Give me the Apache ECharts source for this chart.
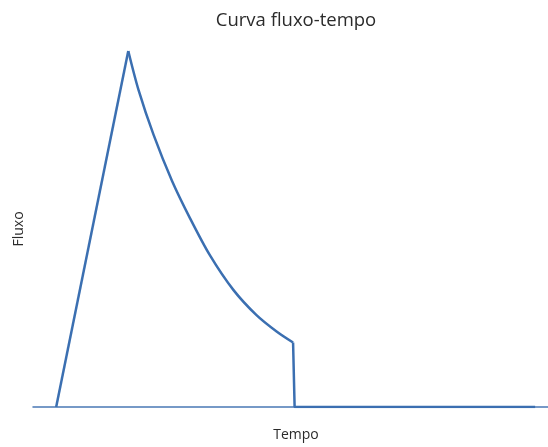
<!DOCTYPE html>
<html>
<head>
<meta charset="utf-8">
<script src="https://cdn.jsdelivr.net/npm/echarts@6/dist/echarts.min.js"></script>
<style>html,body{margin:0;padding:0;background:#fff}#c{width:548px;height:447px}</style>
</head>
<body>
<div id="c"></div>
<script>
// rise, then decay curve, then drop and flat tail
var tempoSubida = [4.5, 18.5];
var fluxoSubida = [0, 100];
var tempoDecaimento = [18.5, 20.5, 23.4, 27.0, 30.5, 34.4, 38.9, 43.4, 47.3, 50.5];
var fluxoDecaimento = [100, 89, 76.5, 63.5, 53.0, 42.5, 32.9, 25.8, 21.2, 18.1];
var tempoFinal = [50.5, 50.8, 97.5];
var fluxoFinal = [18.1, 0, 0];
var titulo = 'Curva fluxo-tempo';
var nomeX = 'Tempo';
var nomeY = 'Fluxo';

function pares(t, f) { return t.map(function (v, i) { return [v, f[i]]; }); }
var estilo = {color: '#3b6fb1', width: 2.5};
var chart = echarts.init(document.getElementById('c'), null, {renderer: 'canvas'});
chart.setOption({
  animation: false,
  backgroundColor: '#fff',
  title: {
    text: titulo, left: 291, top: 6, textAlign: 'center',
    textStyle: {fontFamily: 'Open Sans', fontSize: 18.5, fontWeight: 'normal', color: '#2b2b2b'}
  },
  grid: {left: 33, right: 0, top: 51, bottom: 31},
  xAxis: {
    type: 'value', min: 0, max: 100,
    name: nomeX, nameLocation: 'middle', nameGap: 21,
    nameTextStyle: {fontFamily: 'Open Sans', fontSize: 14, color: '#2b2b2b', padding: [0, 0, 0, 11]},
    axisLine: {show: true, onZero: false, lineStyle: {color: '#4a78b5', width: 1.5}},
    axisTick: {show: false}, axisLabel: {show: false}, splitLine: {show: false}
  },
  yAxis: {
    type: 'value', min: 0, max: 100,
    name: nomeY, nameLocation: 'middle', nameGap: 7,
    nameTextStyle: {fontFamily: 'Open Sans', fontSize: 14, color: '#2b2b2b'},
    axisLine: {show: false}, axisTick: {show: false}, axisLabel: {show: false}, splitLine: {show: false}
  },
  series: [
    {type: 'line', data: pares(tempoSubida, fluxoSubida), showSymbol: false, lineStyle: estilo, z: 3},
    {type: 'line', data: pares(tempoDecaimento, fluxoDecaimento), showSymbol: false, smooth: 0.3, lineStyle: estilo, z: 3},
    {type: 'line', data: pares(tempoFinal, fluxoFinal), showSymbol: false, lineStyle: estilo, z: 3}
  ]
});
</script>
</body>
</html>
